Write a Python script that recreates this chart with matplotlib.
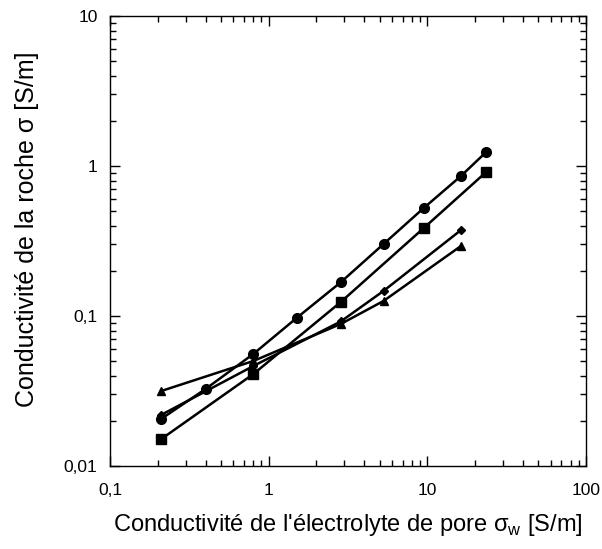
import matplotlib.pyplot as plt
from matplotlib.ticker import FixedLocator, FixedFormatter, LogLocator, NullFormatter

plt.rcParams['font.family'] = ['Liberation Sans', 'DejaVu Sans']
plt.rcParams['mathtext.fontset'] = 'custom'
plt.rcParams['mathtext.rm'] = 'Liberation Sans'

# ---------------- DONNÉES ----------------
x_rond = [0.21, 0.40, 0.80, 1.50, 2.85, 5.3, 9.5, 16.3, 23.5]
y_rond = [0.0206, 0.0326, 0.0558, 0.097, 0.168, 0.302, 0.525, 0.858, 1.24]

x_carre = [0.21, 0.80, 2.85, 9.5, 23.5]
y_carre = [0.0151, 0.041, 0.124, 0.386, 0.912]

x_losange = [0.21, 0.80, 2.85, 5.3, 16.3]
y_losange = [0.0219, 0.0464, 0.092, 0.147, 0.374]

x_triangle = [0.21, 0.80, 2.85, 5.3, 16.3]
y_triangle = [0.0316, 0.0501, 0.0885, 0.126, 0.293]

xticks = [0.1, 1, 10, 100]
xtick_labels = ['0,1', '1', '10', '100']
yticks = [0.01, 0.1, 1, 10]
ytick_labels = ['0,01', '0,1', '1', '10']

# ---------------- PLOT ----------------
fig = plt.figure(figsize=(6.02, 5.49), dpi=100)
ax = fig.add_axes([110/602, 1 - 466/549, 476/602, 450/549])

ax.plot(x_rond, y_rond, color='black', lw=1.8, marker='o', ms=7)
ax.plot(x_carre, y_carre, color='black', lw=1.8, marker='s', ms=7)
ax.plot(x_losange, y_losange, color='black', lw=1.8, marker='D', ms=4.5)
ax.plot(x_triangle, y_triangle, color='black', lw=1.8, marker='^', ms=6)

ax.set_xscale('log')
ax.set_yscale('log')
ax.set_xlim(0.1, 100)
ax.set_ylim(0.01, 10)

ax.xaxis.set_major_locator(FixedLocator(xticks))
ax.xaxis.set_major_formatter(FixedFormatter(xtick_labels))
ax.yaxis.set_major_locator(FixedLocator(yticks))
ax.yaxis.set_major_formatter(FixedFormatter(ytick_labels))
ax.xaxis.set_minor_locator(LogLocator(base=10, subs=range(2, 10)))
ax.yaxis.set_minor_locator(LogLocator(base=10, subs=range(2, 10)))
ax.xaxis.set_minor_formatter(NullFormatter())
ax.yaxis.set_minor_formatter(NullFormatter())

ax.tick_params(which='both', direction='in', top=True, right=True, width=1)
ax.tick_params(which='major', length=7, labelsize=12.5)
ax.tick_params(axis='x', which='major', pad=12)
ax.tick_params(axis='y', which='major', pad=9)
ax.tick_params(which='minor', length=4)
for s in ax.spines.values():
    s.set_linewidth(1)

ax.set_xlabel("Conductivité de l'électrolyte de pore σ$_\\mathrm{w}$ [S/m]", fontsize=17, labelpad=10)
ax.set_ylabel("Conductivité de la roche σ [S/m]", fontsize=18)
ax.yaxis.set_label_coords(-0.15, 0.527)

fig.savefig('out.png', dpi=100)
